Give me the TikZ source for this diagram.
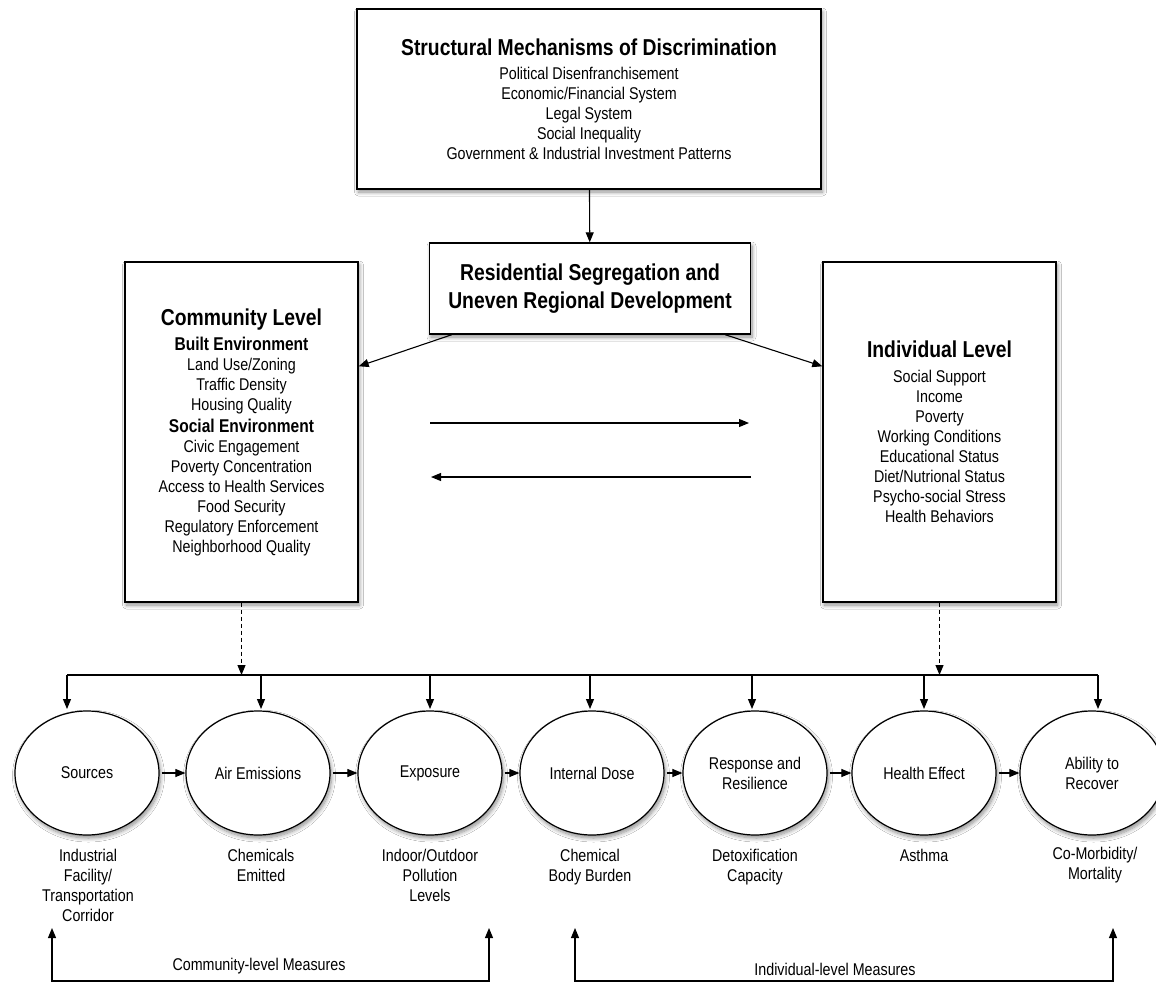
\documentclass[tikz,border=0pt]{standalone}
\usepackage{fontspec}
\setmainfont{Liberation Sans}[FakeStretch=0.84]
\usetikzlibrary{shapes.geometric,arrows.meta,shadows.blur}
\newcommand\bigttl{\fontsize{23}{24}\selectfont\bfseries}
\newcommand\subttl{\fontsize{18.5}{20}\selectfont\bfseries}
\newcommand\bodyfont{\fontsize{17}{20}\selectfont}
\begin{document}
\begin{tikzpicture}[x=1pt,y=-1pt,
  shad/.style={blur shadow={shadow blur steps=8, shadow blur radius=4pt, shadow xshift=1.5pt, shadow yshift=-3pt, shadow opacity=45}},
  box/.style={draw, line width=1.4pt, fill=white, shad, align=center, inner sep=0pt, font=\bodyfont},
  circ/.style={ellipse, draw, line width=1.2pt, fill=white, shad, minimum width=144pt, minimum height=124pt, inner sep=0pt, align=center, font=\bodyfont},
  lbl/.style={align=center, inner sep=0pt, font=\bodyfont},
  arr/.style={line width=1.1pt, -{Triangle[length=10pt,width=8pt]}},
  dasharr/.style={arr, dash pattern=on 4pt off 3pt},
  twoarr/.style={line width=1.1pt, {Triangle[length=10pt,width=8pt]}-{Triangle[length=10pt,width=8pt]}}
]
\useasboundingbox (0,0) rectangle (1156,982);
\fill[white] (0,0) rectangle (1156,982);

% top boxes
\node[box, minimum width=464pt, minimum height=180pt] (top) at (589,99)
  {{\bigttl Structural Mechanisms of Discrimination}\\[4pt]
   Political Disenfranchisement\\ Economic/Financial System\\ Legal System\\
   Social Inequality\\ Government \& Industrial Investment Patterns};
\node[box, minimum width=321pt, minimum height=91pt, font=\fontsize{23}{28}\selectfont\bfseries] (res) at (590,288.5)
  {Residential Segregation and\\Uneven Regional Development};
\node[box, minimum width=233pt, minimum height=340pt] (cm) at (241.5,432)
  {{\bigttl Community Level}\\[5pt]
   {\subttl Built Environment}\\ Land Use/Zoning\\ Traffic Density\\ Housing Quality\\[2pt]
   {\subttl Social Environment}\\ Civic Engagement\\ Poverty Concentration\\
   Access to Health Services\\ Food Security\\ Regulatory Enforcement\\ Neighborhood Quality};
\node[box, minimum width=233pt, minimum height=340pt] (ind) at (939.5,432)
  {{\bigttl Individual Level}\\[5pt]
   Social Support\\ Income\\ Poverty\\ Working Conditions\\ Educational Status\\
   Diet/Nutrional Status\\ Psycho-social Stress\\ Health Behaviors};

\draw[arr] (top) -- (res);
\draw[arr] ([xshift=23pt]res.south west) -- ([yshift=-105pt]cm.north east);
\draw[arr] ([xshift=-26pt]res.south east) -- ([yshift=-105pt]ind.north west);

\coordinate (h1s) at (430,423); \coordinate (h1e) at (749,423);
\coordinate (h2s) at (751,477); \coordinate (h2e) at (431,477);
\draw[arr] (h1s) -- (h1e);
\draw[arr] (h2s) -- (h2e);

% circles
\node[circ] (c1) at (87,773) {Sources};
\node[circ] (c2) at (258,773) {Air Emissions};
\node[circ] (c3) at (430,773) {Exposure};
\node[circ] (c4) at (592,773) {Internal Dose};
\node[circ] (c5) at (755,773) {Response and\\Resilience};
\node[circ] (c6) at (924,773) {Health Effect};
\node[circ] (c7) at (1092,773) {Ability to\\Recover};

\foreach \a/\b in {c1/c2,c2/c3,c3/c4,c4/c5,c5/c6,c6/c7}
  \draw[arr, shorten <=2pt] (\a) -- (\b);

% bus
\coordinate (bL) at (67,675);
\coordinate (bR) at (1098,675);
\draw[line width=1.1pt] (bL) -- (bR);
\draw[dasharr] (cm.south) -- (cm.south |- bL);
\draw[dasharr] (ind.south) -- (ind.south |- bL);
\foreach \x/\c in {67/c1,261/c2,430/c3,590/c4,752/c5,924/c6,1098/c7}{
  \coordinate (d\c) at (\x,675);
  \draw[arr] (d\c) -- (\x,709);
}

% labels under circles
\node[lbl, anchor=north] (l1) at (88,849) {Industrial\\Facility/\\Transportation\\Corridor};
\node[lbl, anchor=north] (l2) at (261,849) {Chemicals\\Emitted};
\node[lbl, anchor=north] (l3) at (430,849) {Indoor/Outdoor\\Pollution\\Levels};
\node[lbl, anchor=north] (l4) at (590,849) {Chemical\\Body Burden};
\node[lbl, anchor=north] (l5) at (755,849) {Detoxification\\Capacity};
\node[lbl, anchor=north] (l6) at (924,849) {Asthma};
\node[lbl, anchor=north] (l7) at (1095,847) {Co-Morbidity/\\Mortality};

% measures
\node[lbl] (cml) at (259,966) {Community-level Measures};
\node[lbl] (iml) at (835,969) {Individual-level Measures};
\coordinate (m1a) at (52,928); \coordinate (m1m) at (259,981); \coordinate (m1b) at (489,928);
\coordinate (m2a) at (575,928); \coordinate (m2m) at (835,981); \coordinate (m2b) at (1113,928);
\draw[twoarr] (m1a) |- (m1m) -| (m1b);
\draw[twoarr] (m2a) |- (m2m) -| (m2b);
\end{tikzpicture}
\end{document}
